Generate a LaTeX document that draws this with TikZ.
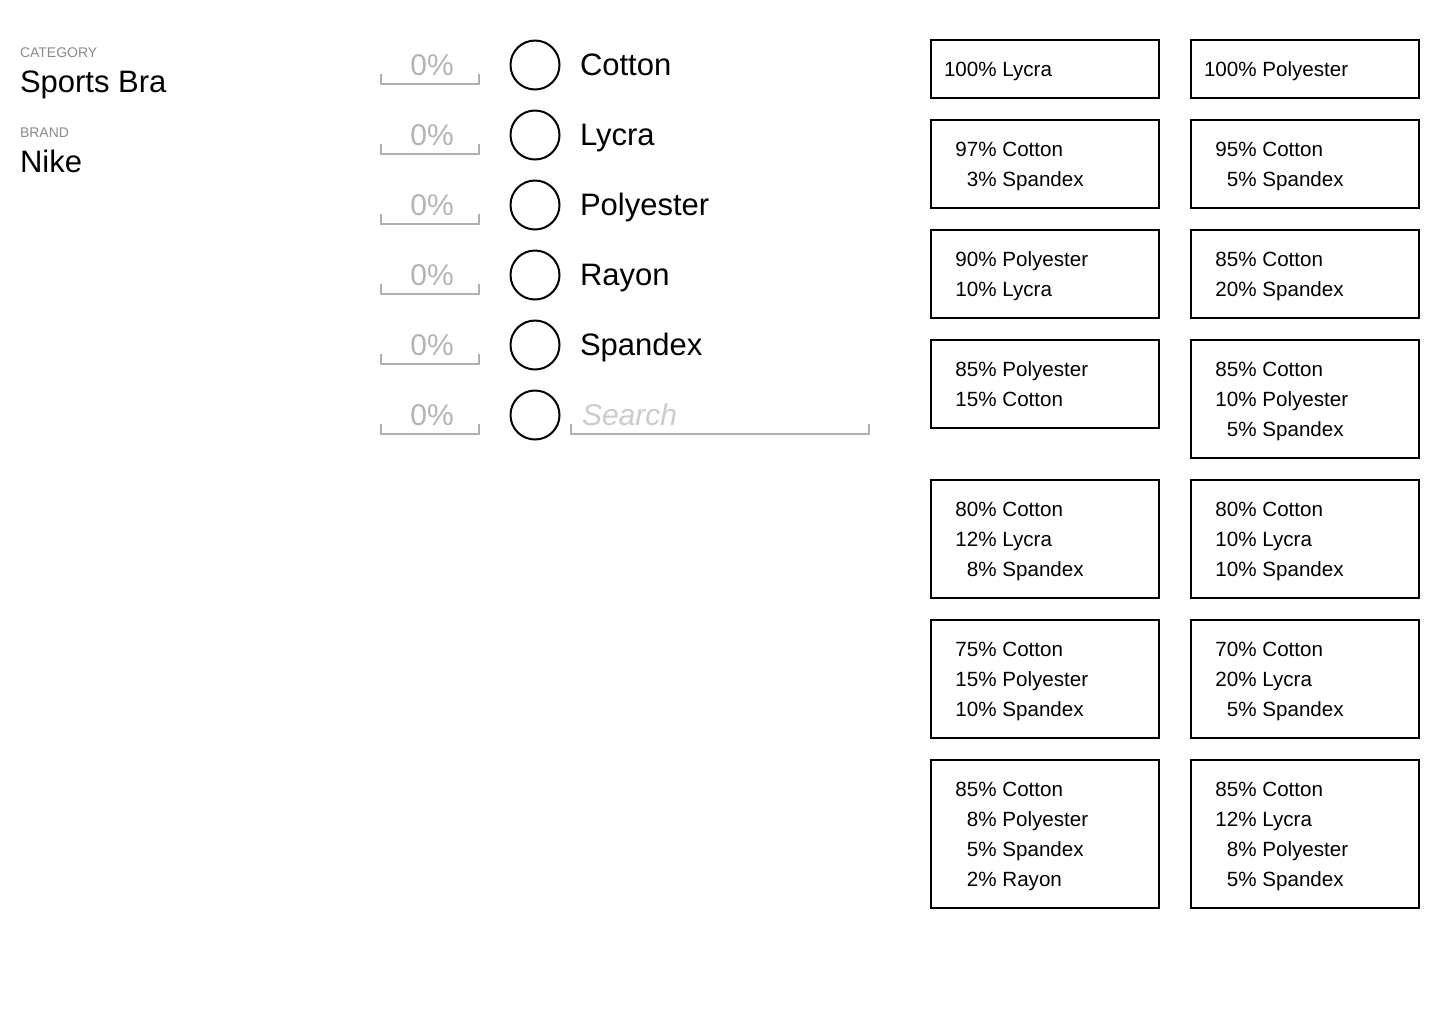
\documentclass[tikz,border=0pt]{standalone}
\usepackage{fontspec}
\setmainfont{Liberation Sans}
\definecolor{tagcol}{HTML}{8A8A8A}
\definecolor{numcol}{HTML}{B4B4B4}
\definecolor{linecol}{HTML}{B0B0B0}
\definecolor{searchcol}{HTML}{CCCCCC}
\newcommand\pcnt[1]{\makebox[1.668em][r]{#1}\%}

\begin{document}
\begin{tikzpicture}[x=0.5pt,y=-0.5pt,
  every node/.style={inner sep=0pt,outer sep=0pt},
  tag/.style={anchor=base west,font=\fontsize{7}{8}\selectfont,text=tagcol},
  value/.style={anchor=base west,font=\fontsize{15.5}{18}\selectfont},
  pcfield/.style={anchor=base,font=\fontsize{15}{18}\selectfont,text=numcol},
  fieldline/.style={draw=linecol,line width=1pt},
  knob/.style={circle,draw=black,line width=1pt,minimum size=24.5pt},
  fabric/.style={anchor=base west,font=\fontsize{15.5}{18}\selectfont},
  mixbox/.style={draw=black,line width=1pt,anchor=north west,minimum width=114pt},
  mixtext/.style={anchor=base west,align=left,font=\fontsize{10.3}{15}\selectfont}]

\useasboundingbox (0,0) rectangle (1440,1024);

\node[tag] (cat) at (20,57) {CATEGORY};
\node[value] (catv) at (20,92) {Sports Bra};
\node[tag] (brand) at (20,137) {BRAND};
\node[value] (brandv) at (20,172) {Nike};

\node[pcfield] (p1) at (432,75) {0\%};
\draw[fieldline] (381,74) -- (381,84) -- (479,84) -- (479,74);
\node[knob] (k1) at (535,65) {};
\node[fabric] (f1) at (580,75) {Cotton};

\node[pcfield] (p2) at (432,145) {0\%};
\draw[fieldline] (381,144) -- (381,154) -- (479,154) -- (479,144);
\node[knob] (k2) at (535,135) {};
\node[fabric] (f2) at (580,145) {Lycra};

\node[pcfield] (p3) at (432,215) {0\%};
\draw[fieldline] (381,214) -- (381,224) -- (479,224) -- (479,214);
\node[knob] (k3) at (535,205) {};
\node[fabric] (f3) at (580,215) {Polyester};

\node[pcfield] (p4) at (432,285) {0\%};
\draw[fieldline] (381,284) -- (381,294) -- (479,294) -- (479,284);
\node[knob] (k4) at (535,275) {};
\node[fabric] (f4) at (580,285) {Rayon};

\node[pcfield] (p5) at (432,355) {0\%};
\draw[fieldline] (381,354) -- (381,364) -- (479,364) -- (479,354);
\node[knob] (k5) at (535,345) {};
\node[fabric] (f5) at (580,355) {Spandex};

\node[pcfield] (p6) at (432,425) {0\%};
\draw[fieldline] (381,424) -- (381,434) -- (479,434) -- (479,424);
\node[knob] (k6) at (535,415) {};
\node[fabric,text=searchcol,font=\fontsize{15}{18}\selectfont\itshape] (srch) at (582,425) {Search};
\draw[fieldline] (571,424) -- (571,434) -- (869,434) -- (869,424);

\node[mixbox,minimum height=29pt] (a1) at (931,40) {};
\node[mixtext] (ta1) at (944,76) {\pcnt{100} Lycra};
\node[mixbox,minimum height=29pt] (b1) at (1191,40) {};
\node[mixtext] (tb1) at (1204,76) {\pcnt{100} Polyester};

\node[mixbox,minimum height=44pt] (a2) at (931,120) {};
\node[mixtext] (ta2) at (944,186) {\pcnt{97} Cotton\\\pcnt{3} Spandex};
\node[mixbox,minimum height=44pt] (b2) at (1191,120) {};
\node[mixtext] (tb2) at (1204,186) {\pcnt{95} Cotton\\\pcnt{5} Spandex};

\node[mixbox,minimum height=44pt] (a3) at (931,230) {};
\node[mixtext] (ta3) at (944,296) {\pcnt{90} Polyester\\\pcnt{10} Lycra};
\node[mixbox,minimum height=44pt] (b3) at (1191,230) {};
\node[mixtext] (tb3) at (1204,296) {\pcnt{85} Cotton\\\pcnt{20} Spandex};

\node[mixbox,minimum height=44pt] (a4) at (931,340) {};
\node[mixtext] (ta4) at (944,406) {\pcnt{85} Polyester\\\pcnt{15} Cotton};
\node[mixbox,minimum height=59pt] (b4) at (1191,340) {};
\node[mixtext] (tb4) at (1204,436) {\pcnt{85} Cotton\\\pcnt{10} Polyester\\\pcnt{5} Spandex};

\node[mixbox,minimum height=59pt] (a5) at (931,480) {};
\node[mixtext] (ta5) at (944,576) {\pcnt{80} Cotton\\\pcnt{12} Lycra\\\pcnt{8} Spandex};
\node[mixbox,minimum height=59pt] (b5) at (1191,480) {};
\node[mixtext] (tb5) at (1204,576) {\pcnt{80} Cotton\\\pcnt{10} Lycra\\\pcnt{10} Spandex};

\node[mixbox,minimum height=59pt] (a6) at (931,620) {};
\node[mixtext] (ta6) at (944,716) {\pcnt{75} Cotton\\\pcnt{15} Polyester\\\pcnt{10} Spandex};
\node[mixbox,minimum height=59pt] (b6) at (1191,620) {};
\node[mixtext] (tb6) at (1204,716) {\pcnt{70} Cotton\\\pcnt{20} Lycra\\\pcnt{5} Spandex};

\node[mixbox,minimum height=74pt] (a7) at (931,760) {};
\node[mixtext] (ta7) at (944,886) {\pcnt{85} Cotton\\\pcnt{8} Polyester\\\pcnt{5} Spandex\\\pcnt{2} Rayon};
\node[mixbox,minimum height=74pt] (b7) at (1191,760) {};
\node[mixtext] (tb7) at (1204,886) {\pcnt{85} Cotton\\\pcnt{12} Lycra\\\pcnt{8} Polyester\\\pcnt{5} Spandex};

\end{tikzpicture}
\end{document}
